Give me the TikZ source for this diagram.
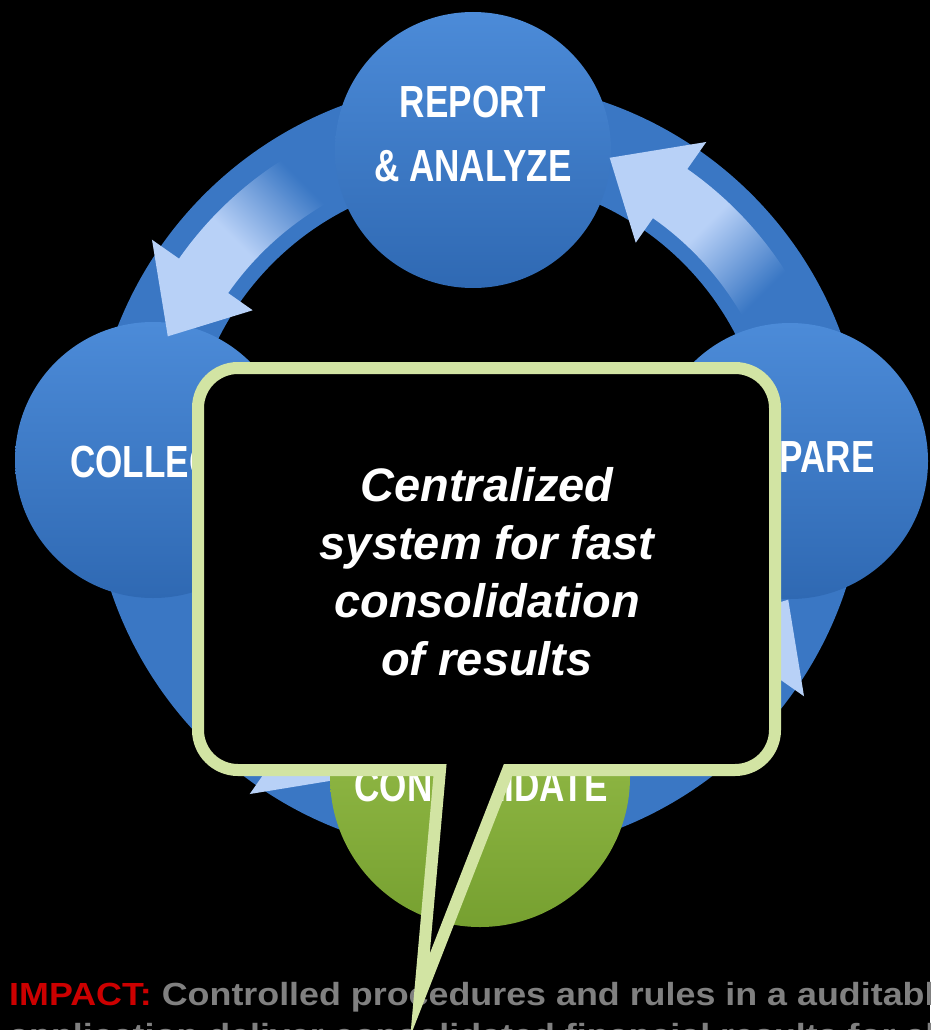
\documentclass[tikz,border=0pt]{standalone}
\usepackage{fontspec}
\setmainfont{Liberation Sans}
\newfontfamily\stagefont[FakeStretch=0.78]{Liberation Sans}
\newfontfamily\impactfont[FakeStretch=1.12]{Liberation Sans}

\definecolor{bandblue}{HTML}{3A77C4}
\definecolor{stagetop}{HTML}{4C8BD8}
\definecolor{stagebot}{HTML}{2F69B3}
\definecolor{arrowlight}{HTML}{B8D1F7}
\definecolor{greentop}{HTML}{A0C651}
\definecolor{greenbot}{HTML}{76A030}
\definecolor{calloutrim}{HTML}{D2E4A3}
\definecolor{impactred}{HTML}{CC0000}
\definecolor{impactgray}{HTML}{808080}

\begin{document}
\begin{tikzpicture}[x=1pt, y=-1pt,
  stage/.style={circle, minimum size=276pt, inner sep=0pt, top color=stagetop, bottom color=stagebot},
  stagelabel/.style={text=white, align=center, font=\stagefont\bfseries\fontsize{45}{64}\selectfont},
  cyclearrow/.style={top color=bandblue, bottom color=arrowlight, middle color=arrowlight},
  callout/.style={fill=black, draw=calloutrim, line width=12pt},
  impactline/.style={anchor=base west, inner sep=0pt, text=impactgray, font=\impactfont\bfseries\fontsize{32}{34}\selectfont}]
\path[use as bounding box, fill=black] (0,0) rectangle (930,1030);

\coordinate (C) at (478,468);
\fill[bandblue, even odd rule] (C) circle[radius=387] (C) circle[radius=290]; % ring

% lower arrows, under the circles
\begin{scope}[shift={(C)}]
\shade[cyclearrow, shading angle=45] (-222:365) arc[start angle=-222, end angle=-235, radius=365] -- (-235:398) -- (-247:337) -- (-235:275) -- (-235:305) arc[start angle=-235, end angle=-222, radius=305] -- cycle;
\shade[cyclearrow, shading angle=135] (-300:365) arc[start angle=-300, end angle=-325, radius=365] -- (-325:398) -- (-337:337) -- (-325:275) -- (-325:305) arc[start angle=-325, end angle=-300, radius=305] -- cycle;
\end{scope}

\node[stage] (report) at (473,150) {};
\node[stage] (collect) at (153,460) {};
\node[stage] (prepare) at (790,461) {};
\node[stage, minimum size=300pt, top color=greentop, bottom color=greenbot] (consolidate) at (480,777) {};

\node[stagelabel] (reportlbl) at (473,134) {REPORT\\\& ANALYZE};
\node[stagelabel] (collectlbl) at (153,462) {COLLECT};
\node[stagelabel] (preparelbl) at (791,457) {PREPARE};
\node[stagelabel] (consolidatelbl) at (481,786) {CONSOLIDATE};

% upper arrows, over the circles
\begin{scope}[shift={(C)}]
\shade[cyclearrow, shading angle=-45] (-120:365) arc[start angle=-120, end angle=-145, radius=365] -- (-145:398) -- (-157:337) -- (-145:275) -- (-145:305) arc[start angle=-145, end angle=-120, radius=305] -- cycle;
\shade[cyclearrow, shading angle=-135] (-30:365) arc[start angle=-30, end angle=-55, radius=365] -- (-55:398) -- (-67:337) -- (-55:275) -- (-55:305) arc[start angle=-55, end angle=-30, radius=305] -- cycle;
\end{scope}

\node[impactline] (impact) at (9,1005) {\textcolor{impactred}{IMPACT:} Controlled procedures and rules in a auditable};
\node[impactline] (impactnext) at (9,1046) {application deliver consolidated financial results for all};

% callout
\draw[callout] (300,770) -- (440,770) -- (420,995) -- (508,770) [rounded corners=40] -- (775,770) -- (775,368) -- (198,368) -- (198,770) -- cycle;
\node[text=white, align=center, font=\bfseries\itshape\fontsize{47}{58}\selectfont] (message) at (487,572) {Centralized\\system for fast\\consolidation\\of results};
\end{tikzpicture}
\end{document}
